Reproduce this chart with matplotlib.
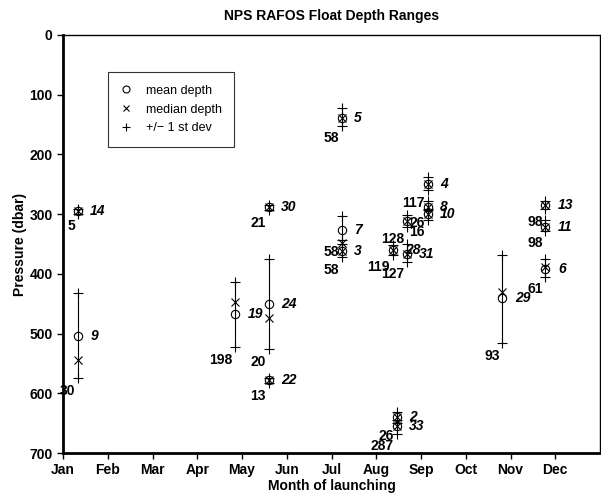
import matplotlib
matplotlib.use('Agg')
import matplotlib.pyplot as plt
from matplotlib.lines import Line2D

plt.rcParams['font.family'] = ['Liberation Sans', 'DejaVu Sans']

# launch month (Jan = 1), mean, median, +1 sd (shallow), -1 sd (deep), float id, count
month = [1.33, 1.33, 4.84, 5.60, 5.60, 5.60, 7.23, 7.23, 7.23,
         8.46, 8.46, 9.15, 9.15, 9.15, 8.68, 8.37, 8.68,
         10.82, 11.78, 11.78, 11.78]
mean = [504, 295, 467, 451, 288, 578, 139, 327, 362,
        640, 655, 250, 288, 300, 312, 360, 366,
        441, 285, 322, 392]
median = [544, 295, 447, 474, 288, 578, 139, 348, 362,
          640, 655, 250, 288, 300, 312, 360, 366,
          430, 285, 322, 388]
sd_top = [432, 291, 414, 375, 284, 574, 122, 303, 350,
          632, 645, 238, 278, 292, 301, 352, 350,
          368, 278, 310, 375]
sd_bot = [575, 299, 523, 526, 293, 583, 152, 343, 372,
          650, 668, 260, 293, 309, 321, 368, 380,
          516, 292, 328, 405]
ids = ['9', '14', '19', '24', '30', '22', '5', '7', '3',
       '2', '33', '4', '8', '10', '', '28', '31',
       '29', '13', '11', '6']
counts = ['30', '5', '198', '20', '21', '13', '58', '58', '58',
          '26', '287', '117', '26', '16', '128', '119', '127',
          '93', '98', '98', '61']
months = ['Jan', 'Feb', 'Mar', 'Apr', 'May', 'Jun', 'Jul', 'Aug', 'Sep', 'Oct', 'Nov', 'Dec']

fig = plt.figure(figsize=(6.01, 4.98), dpi=100)
ax = fig.add_axes([63/601, 45/498, 537/601, 418/498])

for i in range(len(month)):
    x = month[i]
    ax.plot([x, x], [sd_top[i], sd_bot[i]], 'k-', lw=0.8)
    ax.plot([x, x], [sd_top[i], sd_bot[i]], 'k+', ms=7, mew=0.8)
    ax.plot(x, mean[i], 'o', mfc='none', mec='k', ms=6, mew=0.8)
    ax.plot(x, median[i], 'kx', ms=6, mew=0.8)
    if ids[i]:
        ax.annotate(ids[i], (x, mean[i]), xytext=(9, 0), textcoords='offset points',
                    ha='left', va='center', fontsize=10, fontweight='bold', style='italic')
    ax.annotate(counts[i], (x, sd_bot[i]), xytext=(-2, -4), textcoords='offset points',
                ha='right', va='top', fontsize=10, fontweight='bold', annotation_clip=False)

ax.set_xlim(1, 13)
ax.set_ylim(700, 0)
ax.set_xticks(range(1, 13))
ax.set_xticklabels(months)
ax.set_yticks(range(0, 701, 100))
ax.tick_params(direction='out', length=4, width=1)
for lbl in ax.get_xticklabels() + ax.get_yticklabels():
    lbl.set_fontweight('bold')
    lbl.set_fontsize(10)
ax.spines['left'].set_linewidth(2)
ax.spines['bottom'].set_linewidth(2)
ax.spines['top'].set_linewidth(1)
ax.spines['right'].set_linewidth(1)

ax.set_title('NPS RAFOS Float Depth Ranges', fontsize=10, fontweight='bold', pad=11)
ax.set_xlabel('Month of launching', fontsize=10, fontweight='bold', labelpad=1)
ax.set_ylabel('Pressure (dbar)', fontsize=10, fontweight='bold', labelpad=2)

handles = [Line2D([], [], ls='none', marker='o', mfc='none', mec='k', ms=5, mew=0.8),
           Line2D([], [], ls='none', marker='x', color='k', ms=5, mew=0.8),
           Line2D([], [], ls='none', marker='+', color='k', ms=6, mew=0.8)]
leg = ax.legend(handles, ['mean depth', 'median depth', '+/\u2212 1 st dev'],
                loc='upper left', bbox_to_anchor=(0.084, 0.911), borderaxespad=0,
                fontsize=9, frameon=True, fancybox=False, edgecolor='k',
                handlelength=0.8, handletextpad=1.2, borderpad=1.0, labelspacing=0.55)
leg.get_frame().set_linewidth(0.8)

fig.savefig('out.png', dpi=100)
